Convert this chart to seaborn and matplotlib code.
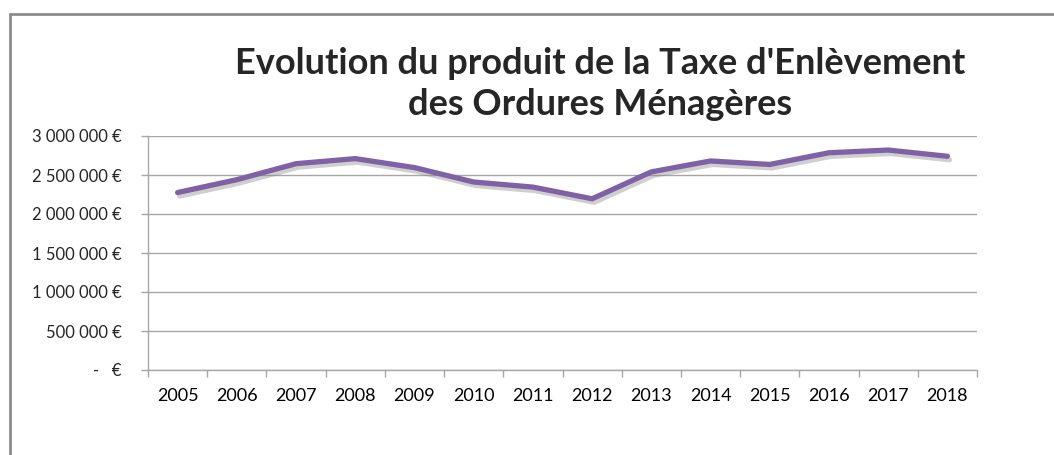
import matplotlib
matplotlib.use("Agg")
import matplotlib.pyplot as plt
import matplotlib.patheffects as pe
from matplotlib.ticker import FuncFormatter, FixedLocator
import seaborn as sns
import pandas as pd

years = [2005, 2006, 2007, 2008, 2009, 2010, 2011,
         2012, 2013, 2014, 2015, 2016, 2017, 2018]
produit_teom = [2275000, 2440000, 2645000, 2710000, 2595000, 2410000, 2345000,
                2195000, 2540000, 2680000, 2635000, 2785000, 2820000, 2740000]
y_ticks = [0, 500000, 1000000, 1500000, 2000000, 2500000, 3000000]
titre = "Evolution du produit de la Taxe d'Enlèvement\ndes Ordures Ménagères"

df = pd.DataFrame({"annee": years, "produit": produit_teom})

sns.set_style("white")
plt.rcParams["font.family"] = ["Lato", "DejaVu Sans"]

fig = plt.figure(figsize=(10.54, 4.55), dpi=100)
ax = fig.add_axes([148 / 1054, 1 - 370 / 455, (977 - 148) / 1054, (370 - 136) / 455])

sns.lineplot(data=df, x="annee", y="produit", ax=ax, color="#7f62a6", linewidth=3.8,
             solid_capstyle="round",
             path_effects=[pe.SimpleLineShadow(offset=(1.5, -2.5), shadow_color="#888888", alpha=0.4),
                           pe.Normal()])

ax.set_xlim(years[0] - 0.5, years[-1] + 0.5)
ax.set_ylim(y_ticks[0], y_ticks[-1])


def euro(v, pos):
    if v == 0:
        return "-   €"
    return "{:,.0f} €".format(v).replace(",", " ")


ax.yaxis.set_major_locator(FixedLocator(y_ticks))
ax.yaxis.set_major_formatter(FuncFormatter(euro))
ax.grid(axis="y", color="#a6a6a6", linewidth=1)
ax.set_axisbelow(True)

# etiquettes au milieu des categories, graduations entre les categories
ax.set_xticks(years)
ax.set_xticklabels([str(y) for y in years])
ax.set_xticks([y - 0.5 for y in years] + [years[-1] + 0.5], minor=True)
ax.tick_params(axis="x", which="major", length=0, pad=13, labelsize=13, colors="#000000")
ax.tick_params(axis="x", which="minor", length=5, width=1, color="#a6a6a6", direction="out", bottom=True)
ax.tick_params(axis="y", which="major", length=5, width=1, color="#a6a6a6", direction="out",
               left=True, pad=14, labelsize=12)

for side in ["top", "right"]:
    ax.spines[side].set_visible(False)
for side in ["left", "bottom"]:
    ax.spines[side].set_color("#a6a6a6")
    ax.spines[side].set_linewidth(1)

ax.set_xlabel("")
ax.set_ylabel("")

fig.text(600 / 1054, 1 - 84 / 455, titre, ha="center", va="center",
         fontsize=26, fontweight="bold", linespacing=1.32)

# cadre du graphique
fig.add_artist(plt.Line2D([10 / 1054, 10 / 1054], [0, 1 - 14 / 455],
                          transform=fig.transFigure, color="#8c8c8c", linewidth=2))
fig.add_artist(plt.Line2D([10 / 1054, 1], [1 - 14 / 455, 1 - 14 / 455],
                          transform=fig.transFigure, color="#8c8c8c", linewidth=2))

fig.savefig("out.png", dpi=100)
plt.close(fig)
